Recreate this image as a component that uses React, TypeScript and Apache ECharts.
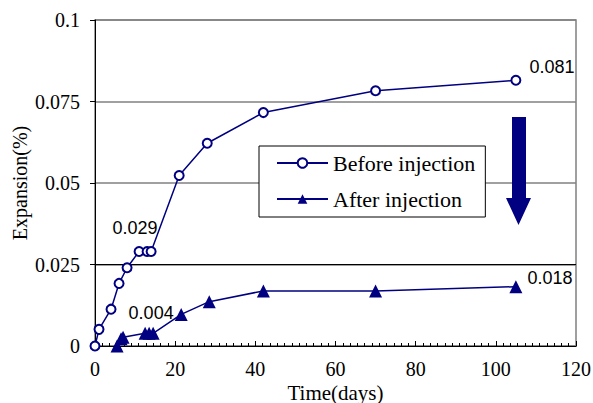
import React, { useEffect, useRef } from 'react';
import * as echarts from 'echarts';

// ---- data ----
const beforeDays = [0, 1, 4, 6, 8, 11, 13, 14, 21, 28, 42, 70, 105];
const beforeValues = [0, 0.0051, 0.0113, 0.0192, 0.024, 0.029, 0.029, 0.029, 0.0523, 0.0622, 0.0716, 0.0783, 0.0815];
const afterDays = [5.5, 6.5, 7, 12.5, 13.5, 14.5, 21.5, 28.5, 42, 70, 105];
const afterValues = [0, 0.0022, 0.0027, 0.0039, 0.0039, 0.0039, 0.0097, 0.0136, 0.0169, 0.0169, 0.0182];
const xTickValues = [0, 20, 40, 60, 80, 100, 120];
const yTickLabels = ['0', '0.025', '0.05', '0.075', '0.1'];
const seriesNames = ['Before injection', 'After injection'];
const beforeLabelText: Record<number, string> = { 5: '0.029', 12: '0.081' };
const afterLabelText: Record<number, string> = { 5: '0.004', 10: '0.018' };
const blackGridValue = 0.025;

const NAVY = '#000080';
const SERIF = '"Liberation Serif", "Times New Roman", serif';
const SANS = '"Liberation Sans", Arial, sans-serif';

export default function App() {
  const ref = useRef<HTMLDivElement>(null);

  useEffect(() => {
    if (!ref.current) return;
    const chart = echarts.init(ref.current, null, { renderer: 'svg' });

    const labelBase = { show: true, fontFamily: SANS, fontSize: 18, color: '#000' };
    const beforePlacement: Record<number, any> = {
      5: { position: 'top', offset: [-4, -4] },
      12: { position: 'right', offset: [3, -13] },
    };
    const afterPlacement: Record<number, any> = {
      5: { position: 'top', offset: [-2, 0] },
      10: { position: 'right', offset: [0, -9] },
    };

    const beforeData = beforeDays.map((d, i) => {
      const item: any = { value: [d, beforeValues[i]] };
      if (beforeLabelText[i]) {
        item.label = { ...labelBase, ...beforePlacement[i], formatter: beforeLabelText[i] };
      }
      return item;
    });
    const afterData = afterDays.map((d, i) => {
      const item: any = { value: [d, afterValues[i]] };
      if (afterLabelText[i]) {
        item.label = { ...labelBase, ...afterPlacement[i], formatter: afterLabelText[i] };
      }
      return item;
    });

    const xMin = xTickValues[0];
    const xMax = xTickValues[xTickValues.length - 1];

    chart.setOption({
      animation: false,
      backgroundColor: '#fff',
      grid: {
        left: 95, right: 17, top: 20, bottom: 57,
        outerBoundsMode: 'none',
        containLabel: false,
        show: true, borderColor: '#808080', borderWidth: 1.5,
      },
      legend: {
        orient: 'vertical',
        left: 259,
        top: 146,
        itemWidth: 51,
        itemHeight: 12,
        itemGap: 14,
        padding: [6, 10, 7, 17],
        borderColor: '#000',
        borderWidth: 1,
        borderRadius: 0,
        backgroundColor: '#fff',
        textStyle: { fontFamily: SERIF, fontSize: 22, color: '#000' },
        data: seriesNames,
      },
      xAxis: {
        type: 'value',
        min: xMin,
        max: xMax,
        interval: 20,
        name: 'Time(days)',
        nameLocation: 'middle',
        nameGap: 36,
        nameMoveOverlap: false,
        nameTextStyle: { fontFamily: SERIF, fontSize: 21, color: '#000' },
        axisLine: { show: true, onZero: false, lineStyle: { color: '#000', width: 1 } },
        axisTick: { show: true, inside: true, length: 5, lineStyle: { color: '#000' } },
        minorTick: { show: true, splitNumber: 11, length: 3, lineStyle: { color: '#000' } },
        axisLabel: { fontFamily: SERIF, fontSize: 20, color: '#000', margin: 13 },
        splitLine: { show: false },
      },
      yAxis: {
        type: 'value',
        min: 0,
        max: 0.1,
        interval: 0.025,
        name: 'Expansion(%)',
        nameLocation: 'middle',
        nameGap: 65,
        nameMoveOverlap: false,
        nameTextStyle: { fontFamily: SERIF, fontSize: 20, color: '#000' },
        axisLine: { show: true, lineStyle: { color: '#000', width: 1 } },
        axisTick: { show: true, inside: false, length: 5, lineStyle: { color: '#000' } },
        axisLabel: {
          fontFamily: SERIF, fontSize: 20, color: '#000', margin: 15,
          formatter: (v: number) => yTickLabels[Math.round(v / 0.025)],
        },
        splitLine: { show: true, lineStyle: { color: '#808080', width: 1.5 } },
      },
      graphic: [
        {
          type: 'polygon',
          z: 10,
          shape: {
            points: [[512, 117], [526, 117], [526, 198], [531, 198], [518.5, 225], [506, 198], [512, 198]],
          },
          style: { fill: NAVY },
        },
      ],
      series: [
        {
          name: 'grid-0.025',
          type: 'line',
          data: [[xMin, blackGridValue], [xMax, blackGridValue]],
          symbol: 'none',
          silent: true,
          z: 1,
          lineStyle: { color: '#000', width: 1 },
          tooltip: { show: false },
        },
        {
          name: seriesNames[0],
          type: 'line',
          data: beforeData,
          symbol: 'emptyCircle',
          symbolSize: 9,
          z: 3,
          itemStyle: { color: NAVY, borderWidth: 1.5 },
          lineStyle: { color: NAVY, width: 1.5 },
        },
        {
          name: seriesNames[1],
          type: 'line',
          data: afterData,
          symbol: 'triangle',
          symbolSize: 13,
          z: 3,
          itemStyle: { color: NAVY },
          lineStyle: { color: NAVY, width: 1.5 },
        },
      ],
    });

    return () => chart.dispose();
  }, []);

  return <div ref={ref} style={{ position: 'absolute', left: 0, top: 0, width: 593, height: 403 }} />;
}
